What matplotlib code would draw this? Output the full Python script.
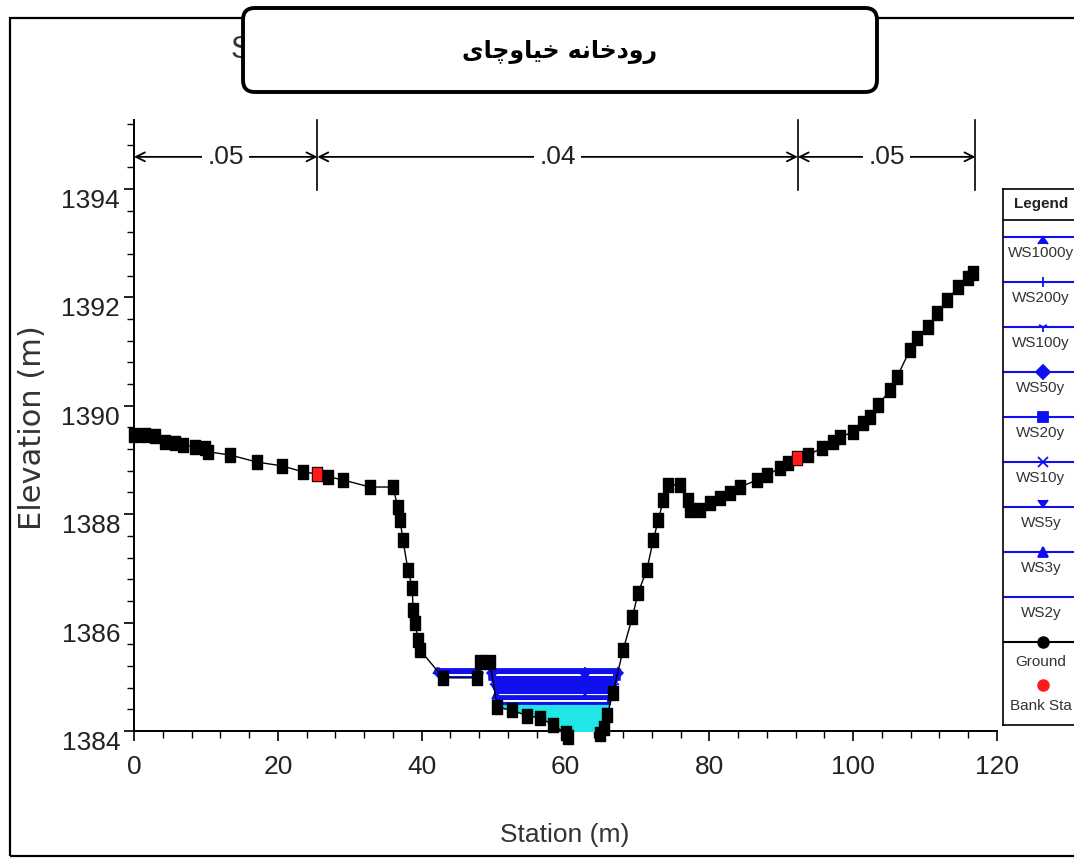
import numpy as np
import matplotlib
matplotlib.use("Agg")
import matplotlib.pyplot as plt  # noqa: E402
from matplotlib.patches import FancyBboxPatch, Rectangle  # noqa: E402

plt.rcParams["font.family"] = ["Liberation Sans", "DejaVu Sans"]

# ground profile (station m, elevation m)
ground_sta = [0.0, 1.5, 2.9, 4.3, 5.7, 6.8, 8.5, 9.9, 10.3, 13.4, 17.1, 20.6, 23.5, 25.5,
              27.0, 29.1, 32.8, 36.0, 36.7, 37.0, 37.4, 38.1, 38.7, 38.8, 39.1, 39.5, 39.8,
              43.0, 47.7, 48.1, 49.5, 50.5, 52.6, 54.7, 56.5, 58.3, 60.0, 60.4, 64.8, 65.3,
              65.8, 66.6, 68.0, 69.3, 70.1, 71.3, 72.2, 72.9, 73.6, 74.3, 75.9, 77.1, 77.3,
              78.7, 80.1, 81.5, 82.9, 84.3, 86.6, 88.0, 89.8, 90.9, 92.2, 93.7, 95.7, 97.2,
              98.2, 100.0, 101.4, 102.4, 103.5, 105.1, 106.1, 107.9, 108.9, 110.4, 111.7,
              113.1, 114.6, 115.9, 116.7]
ground_elev = [1389.46, 1389.46, 1389.44, 1389.33, 1389.31, 1389.28, 1389.24, 1389.22, 1389.15,
               1389.09, 1388.96, 1388.89, 1388.78, 1388.74, 1388.69, 1388.63, 1388.50, 1388.50,
               1388.13, 1387.89, 1387.52, 1386.97, 1386.64, 1386.23, 1385.99, 1385.68, 1385.49,
               1384.98, 1384.98, 1385.27, 1385.27, 1384.44, 1384.38, 1384.28, 1384.24, 1384.11,
               1383.96, 1383.89, 1383.95, 1384.05, 1384.30, 1384.70, 1385.49, 1386.10, 1386.55,
               1386.97, 1387.52, 1387.89, 1388.26, 1388.54, 1388.54, 1388.26, 1388.08, 1388.08,
               1388.20, 1388.30, 1388.39, 1388.50, 1388.63, 1388.72, 1388.85, 1388.94, 1389.04,
               1389.09, 1389.22, 1389.33, 1389.42, 1389.52, 1389.68, 1389.79, 1390.01, 1390.29,
               1390.53, 1391.03, 1391.25, 1391.45, 1391.71, 1391.95, 1392.19, 1392.36, 1392.45]
bank_sta = [25.5, 92.2]
bank_elev = [1388.74, 1389.04]

# water surface profiles
ws_labels = ["WS1000y", "WS200y", "WS100y", "WS50y", "WS20y", "WS10y", "WS5y", "WS3y", "WS2y"]
ws_elev = [1385.14, 1385.12, 1385.10, 1385.07, 1385.00, 1384.90, 1384.78, 1384.64, 1384.50]
ws_markers = [6, "|", "1", "D", "s", "x", 7, "^", None]
ws_mark_sta = 62.7
stripe_elev = [1385.03, 1384.66, 1384.56]

# Manning's n
n_bounds = [0.0, 25.5, 92.3, 117.0]
n_values = [0.05, 0.04, 0.05]

# "رودخانه خیاوچای" in contextual (presentation) forms, logical order
title_fa = ["\uFEAD", "\uFEED", "\uFEA9", "\uFEA7", "\uFE8E", "\uFEE7", "\uFEEA", " ",
            "\uFEA7", "\uFBFF", "\uFE8E", "\uFEED", "\uFB7C", "\uFE8E", "\uFBFC"]

BLUE = "#1010ee"
CYAN = "#22e6e6"
W, H = 1074, 858
TALL_SQ = [(-0.7, -1), (0.7, -1), (0.7, 1), (-0.7, 1), (-0.7, -1)]


def px(x0, y0, x1, y1):
    return [x0 / W, 1 - y1 / H, (x1 - x0) / W, (y1 - y0) / H]


def wet_segments(level):
    d = np.asarray(ground_elev) - level
    s = np.asarray(ground_sta)
    xs = []
    for i in range(len(s) - 1):
        if (d[i] > 0) != (d[i + 1] > 0):
            t = d[i] / (d[i] - d[i + 1])
            xs.append(s[i] + t * (s[i + 1] - s[i]))
    return list(zip(xs[0::2], xs[1::2]))


fig = plt.figure(figsize=(W / 100, H / 100), dpi=100, facecolor="white")
ax = fig.add_axes(px(134, 120, 997, 731))
ax.set_xlim(0, 120)
ax.set_ylim(1384, 1395.27)

gs = np.asarray(ground_sta)
ge = np.asarray(ground_elev)
ax.fill_between(gs, ge, ws_elev[0], where=ge < ws_elev[0], interpolate=True,
                color=BLUE, lw=0, zorder=2)
ax.fill_between(gs, ge, ws_elev[-1], where=ge < ws_elev[-1], interpolate=True,
                color=CYAN, lw=0, zorder=3)
for lev in stripe_elev:
    for a, b in wet_segments(lev):
        ax.plot([a + 0.7, b - 0.7], [lev, lev], color="white", lw=1.4, zorder=3.5)

for lev, mk in zip(ws_elev, ws_markers):
    for a, b in wet_segments(lev):
        xs = [a, b]
        if a < ws_mark_sta < b:
            xs = [a, ws_mark_sta, b]
        ax.plot(xs, [lev] * len(xs), color=BLUE, lw=1.3, marker=mk, ms=5, mew=1.1,
                zorder=4)

ax.plot(ground_sta, ground_elev, color="black", lw=1.0, zorder=5)
ax.plot(ground_sta, ground_elev, ls="none", marker=TALL_SQ, color="black", ms=10,
        zorder=6, clip_on=False)
ax.plot(bank_sta, bank_elev, ls="none", marker=TALL_SQ, color="#ff1a1a", ms=9,
        zorder=7)

# Manning's n bars
ya = 1394.59
for b in n_bounds:
    ax.plot([b, b], [1393.98, 1395.27], color="black", lw=1.2, clip_on=False, zorder=5)
for b0, b1, n in zip(n_bounds[:-1], n_bounds[1:], n_values):
    xm = (b0 + b1) / 2
    for end in (b0, b1):
        ax.annotate("", xy=(end, ya), xytext=(xm, ya), annotation_clip=False,
                    arrowprops=dict(arrowstyle="->", lw=1.3, color="black",
                                    shrinkA=0, shrinkB=0, mutation_scale=16))
    ax.text(xm, ya, f"{n:.2f}".lstrip("0"), ha="center", va="center", fontsize=19,
            color="#222", zorder=6,
            bbox=dict(facecolor="white", edgecolor="none", pad=4))

ax.set_xticks(np.arange(0, 121, 20))
ax.set_xticks(np.arange(0, 121, 4), minor=True)
ax.set_yticks(np.arange(1384, 1395, 2))
ax.set_yticks(1384 + 0.4 * np.arange(29), minor=True)
ax.tick_params(which="major", direction="out", length=7, width=1.2, labelsize=19,
               labelcolor="#222")
ax.tick_params(which="minor", direction="out", length=5, width=1.0)
ax.tick_params(axis="x", pad=10)
ax.tick_params(axis="y", pad=3)
for lbl in ax.get_yticklabels():
    lbl.set_va("top")
for side in ("top", "right"):
    ax.spines[side].set_visible(False)
for side in ("left", "bottom"):
    ax.spines[side].set_linewidth(1.4)

fig.text(33 / W, 1 - 428 / H, "Elevation (m)", rotation=90, ha="center", va="center",
         fontsize=22, family="DejaVu Sans", color="#333")
fig.text(565 / W, 1 - 835 / H, "Station (m)", ha="center", va="center", fontsize=19,
         color="#333")

# legend panel (cut at the right edge as in the source)
lax = fig.add_axes(px(1003, 189, 1092, 725))
lax.set_xlim(0, 89)
lax.set_ylim(725, 189)
lax.set_xticks([])
lax.set_yticks([])
for sp in lax.spines.values():
    sp.set_linewidth(1.2)
lax.plot([0, 89], [220, 220], color="black", lw=1.2)
lax.text(38, 204, "Legend", ha="center", va="center", fontsize=11, fontweight="bold",
         color="#222")
for i, (lab, mk) in enumerate(zip(ws_labels, ws_markers)):
    y = 237 + 45 * i
    lax.plot([0, 89], [y, y], color=BLUE, lw=1.5)
    if mk is not None:
        lax.plot([40], [y], marker=mk, color=BLUE, ms=7, mew=1.3)
    lax.text(38, y + 16, lab, ha="center", va="center", fontsize=11, color="#333")
lax.plot([0, 89], [642, 642], color="black", lw=1.5)
lax.plot([40], [642], "o", color="black", ms=8)
lax.text(38, 662, "Ground", ha="center", va="center", fontsize=11, color="#333")
lax.plot([40], [685], "o", color="#ff1a1a", ms=8)
lax.text(38, 706, "Bank Sta", ha="center", va="center", fontsize=11, color="#333")

# outer frame, hidden plot title and the title box
fig.add_artist(Rectangle((10 / W, 2 / H), 1.2, (856 - 18) / H, transform=fig.transFigure,
                         fill=False, lw=1.6, ec="black", zorder=1))
fig.text(231 / W, 1 - 50 / H, "S", ha="left", va="center", fontsize=22, color="#333",
         zorder=2)
fig.add_artist(FancyBboxPatch((243 / W, 1 - 92 / H), (877 - 243) / W, 84 / H,
                              boxstyle="round,pad=0,rounding_size=0.011",
                              mutation_aspect=W / H, transform=fig.transFigure,
                              fc="white", ec="black", lw=2.8, zorder=10))
fig.text(560 / W, 1 - 52 / H, "".join(reversed(title_fa)), ha="center", va="center",
         fontsize=17, fontweight="bold", family="DejaVu Sans", color="black", zorder=11)

fig.savefig("out.png", dpi=100)
